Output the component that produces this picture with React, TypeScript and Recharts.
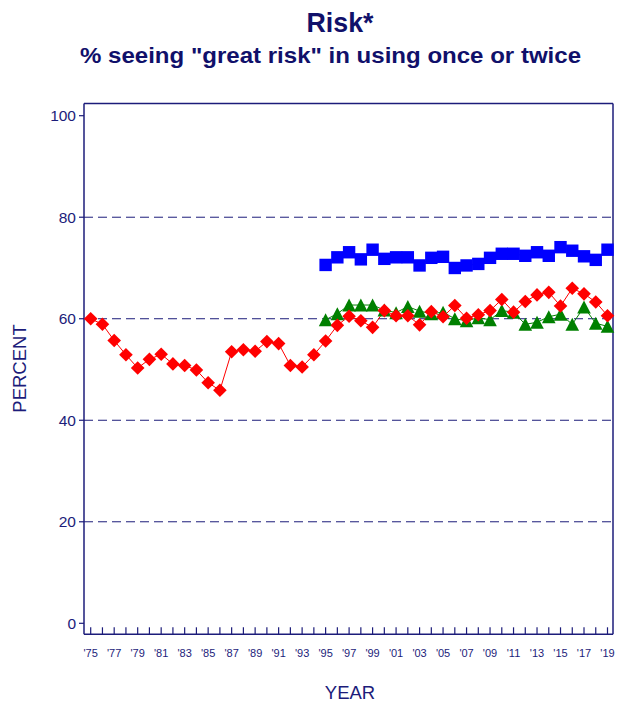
import React from "react";
import { LineChart, Line, XAxis, YAxis, ReferenceLine } from "recharts";

const years = [
  1975, 1976, 1977, 1978, 1979, 1980, 1981, 1982, 1983, 1984, 1985, 1986, 1987, 1988, 1989,
  1990, 1991, 1992, 1993, 1994, 1995, 1996, 1997, 1998, 1999, 2000, 2001, 2002, 2003, 2004,
  2005, 2006, 2007, 2008, 2009, 2010, 2011, 2012, 2013, 2014, 2015, 2016, 2017, 2018, 2019,
];

// 12th grade (red diamonds), 1975-2019
const grade12 = [
  60.0, 58.9, 55.7, 52.9, 50.3, 52.0, 53.0, 51.1, 50.8, 49.9, 47.4, 45.9, 53.5, 53.9, 53.6,
  55.5, 55.1, 50.8, 50.5, 52.9, 55.6, 58.7, 60.5, 59.6, 58.3, 61.6, 60.6, 60.6, 58.8, 61.4,
  60.4, 62.6, 60.1, 60.8, 61.6, 63.8, 61.3, 63.4, 64.7, 65.2, 62.5, 66.0, 64.9, 63.3, 60.6,
];

// 8th grade (blue squares), 1995-2019
const grade8Years = [
  1995, 1996, 1997, 1998, 1999, 2000, 2001, 2002, 2003, 2004, 2005, 2006, 2007, 2008, 2009,
  2010, 2011, 2012, 2013, 2014, 2015, 2016, 2017, 2018, 2019,
];
const grade8 = [
  70.6, 72.1, 73.1, 71.7, 73.6, 71.8, 72.1, 72.1, 70.5, 72.0, 72.2, 70.0, 70.5, 70.8, 72.0,
  72.8, 72.8, 72.4, 73.1, 72.4, 74.1, 73.4, 72.3, 71.6, 73.6,
];

// 10th grade (green triangles), 1995-2019
const grade10 = [
  59.8, 61.0, 62.7, 62.7, 62.7, 61.7, 61.2, 62.4, 61.5, 61.0, 61.3, 60.0, 59.6, 60.2, 59.8,
  61.6, 61.3, 58.9, 59.3, 60.4, 60.9, 58.9, 62.3, 59.1, 58.5,
];

const yTicks = [0, 20, 40, 60, 80, 100];
const gridValues = [20, 40, 60, 80];

const data = years.map((year, i) => {
  const j = grade8Years.indexOf(year);
  return {
    year,
    g12: grade12[i],
    g8: j >= 0 ? grade8[j] : null,
    g10: j >= 0 ? grade10[j] : null,
  };
});

const NAVY = "#1c1c7a";
const TITLE = "#10106a";
const FONT = "'Liberation Sans', Arial, Helvetica, sans-serif";

const Diamond = (props: any) => {
  const { cx, cy, index, value } = props;
  if (cx == null || cy == null || value == null) return <g key={`d${index}`} />;
  const r = 6.8;
  return (
    <path
      key={`d${index}`}
      d={`M${cx},${cy - r}L${cx + r},${cy}L${cx},${cy + r}L${cx - r},${cy}Z`}
      fill="#ff0000"
    />
  );
};

const Square = (props: any) => {
  const { cx, cy, index, value } = props;
  if (cx == null || cy == null || value == null) return <g key={`s${index}`} />;
  const h = 6.2;
  return <rect key={`s${index}`} x={cx - h} y={cy - h} width={2 * h} height={2 * h} fill="#0000ff" />;
};

const Triangle = (props: any) => {
  const { cx, cy, index, value } = props;
  if (cx == null || cy == null || value == null) return <g key={`t${index}`} />;
  const w = 6.8;
  const h = 6.5;
  return (
    <path
      key={`t${index}`}
      d={`M${cx},${cy - h}L${cx + w},${cy + h}L${cx - w},${cy + h}Z`}
      fill="#008000"
    />
  );
};

const fmtYear = (y: number) => (y % 2 === 1 ? "'" + String(y).slice(2) : "");

export default function App() {
  return (
    <div style={{ position: "absolute", left: 0, top: 0, width: 626, height: 705, background: "#fff" }}>
      <LineChart
        width={626}
        height={705}
        data={data}
        margin={{ top: 102.5, right: 12, left: 24, bottom: 40.7 }}
        style={{ fontFamily: FONT }}
      >
        <XAxis
          dataKey="year"
          type="number"
          domain={[1975, 2019]}
          ticks={years}
          interval={0}
          tickFormatter={fmtYear}
          padding={{ left: 6.7, right: 5.5 }}
          axisLine={{ stroke: NAVY, strokeWidth: 1.5 }}
          tickLine={{ stroke: NAVY, strokeWidth: 1.2 }}
          tickSize={-7}
          tickMargin={21.5}
          tick={{ fill: NAVY, fontSize: 11, fontFamily: FONT }}
          height={30}
        />
        <XAxis
          xAxisId="top"
          orientation="top"
          dataKey="year"
          type="number"
          domain={[1975, 2019]}
          height={1}
          tick={false}
          tickLine={false}
          axisLine={{ stroke: NAVY, strokeWidth: 1.5 }}
        />
        <YAxis
          type="number"
          domain={[0, 100]}
          ticks={yTicks}
          interval={0}
          padding={{ top: 12.2, bottom: 11 }}
          axisLine={{ stroke: NAVY, strokeWidth: 1.5 }}
          tickLine={{ stroke: NAVY, strokeWidth: 1.2 }}
          tickSize={5}
          tickMargin={3}
          tick={{ fill: NAVY, fontSize: 15.5, fontFamily: FONT }}
          width={60}
        />
        <YAxis
          yAxisId="right"
          orientation="right"
          type="number"
          domain={[0, 100]}
          width={1}
          tick={false}
          tickLine={false}
          axisLine={{ stroke: NAVY, strokeWidth: 1.5 }}
        />
        {gridValues.map((v) => (
          <ReferenceLine key={v} y={v} stroke={NAVY} strokeWidth={1} strokeDasharray="9 5" />
        ))}
        {/* invisible series so the frame axes (top/right) are drawn */}
        <Line
          dataKey="g12"
          xAxisId="top"
          yAxisId="right"
          stroke="none"
          strokeOpacity={0}
          dot={false}
          activeDot={false}
          legendType="none"
          isAnimationActive={false}
        />
        <Line
          dataKey="g8"
          stroke="#0000ff"
          strokeWidth={1}
          dot={Square}
          activeDot={false}
          isAnimationActive={false}
        />
        <Line
          dataKey="g10"
          stroke="#008000"
          strokeWidth={1}
          dot={Triangle}
          activeDot={false}
          isAnimationActive={false}
        />
        <Line
          dataKey="g12"
          stroke="#ff0000"
          strokeWidth={1}
          dot={Diamond}
          activeDot={false}
          isAnimationActive={false}
        />
      </LineChart>
      <svg
        width={626}
        height={705}
        style={{ position: "absolute", left: 0, top: 0, pointerEvents: "none" }}
      >
        <text
          x={340}
          y={32.3}
          textAnchor="middle"
          fontFamily={FONT}
          fontWeight="bold"
          fontSize={28}
          fill={TITLE}
          textLength={67}
          lengthAdjust="spacingAndGlyphs"
        >
          Risk*
        </text>
        <text
          x={330.5}
          y={63.3}
          textAnchor="middle"
          fontFamily={FONT}
          fontWeight="bold"
          fontSize={22.5}
          fill={TITLE}
          textLength={501}
          lengthAdjust="spacingAndGlyphs"
        >
          % seeing "great risk" in using once or twice
        </text>
        <text
          x={350}
          y={699}
          textAnchor="middle"
          fontFamily={FONT}
          fontSize={18.5}
          fill={NAVY}
        >
          YEAR
        </text>
        <text
          x={25.5}
          y={368.5}
          textAnchor="middle"
          fontFamily={FONT}
          fontSize={18.5}
          fill={NAVY}
          transform="rotate(-90 25.5 368.5)"
        >
          PERCENT
        </text>
      </svg>
    </div>
  );
}
